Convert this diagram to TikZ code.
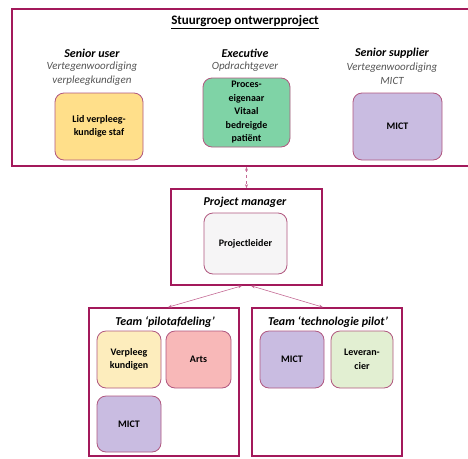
\documentclass[tikz,border=0pt]{standalone}
\usepackage{fontspec}
\setmainfont{Carlito}
\usetikzlibrary{positioning,arrows.meta}
\definecolor{kader}{HTML}{A3195B}
\definecolor{rand}{HTML}{B0577F}
\definecolor{geel}{HTML}{FFDF8A}
\definecolor{groen}{HTML}{7FD3A6}
\definecolor{paars}{HTML}{C9BCE1}
\definecolor{roze}{HTML}{F8B8B8}
\definecolor{lichtgeel}{HTML}{FDEDBD}
\definecolor{lichtgroen}{HTML}{E2EFD2}
\definecolor{grijs}{HTML}{F6F5F6}
\definecolor{subtekst}{HTML}{555555}
\definecolor{lijn}{HTML}{C46A95}
\tikzset{
  kaderbox/.style={draw=kader, line width=1.6pt, inner sep=0pt},
  rolbox/.style={draw=rand, line width=0.8pt, rounded corners=9pt, inner sep=2pt,
    align=center, font=\fontsize{10}{13.5}\selectfont\bfseries},
  kop/.style={font=\fontsize{12}{14}\selectfont\bfseries\itshape, inner sep=0pt},
  subkop/.style={font=\fontsize{11}{14.5}\selectfont\itshape, text=subtekst, align=center, inner sep=0pt},
  pijl/.style={draw=lijn, line width=0.6pt, {Stealth[length=4pt]}-{Stealth[length=4pt]}},
}
\begin{document}
\begin{tikzpicture}[x=1pt, y=-1pt]
  \useasboundingbox (0,0) rectangle (468,458);
  % stuurgroep
  \node[kaderbox, minimum width=458pt, minimum height=157pt] (stuurgroep) at (241,87.5) {};
  \node[kop, font=\fontsize{13}{15}\selectfont\bfseries] (titel) at (245,22) {\underline{Stuurgroep ontwerpproject}};
  \node[kop] (senioruser) at (92,53) {Senior user};
  \node[subkop, below=4pt of senioruser] {Vertegenwoordiging\\verpleegkundigen};
  \node[kop] (executive) at (245,53) {Executive};
  \node[subkop, below=4pt of executive] {Opdrachtgever};
  \node[kop] (seniorsupplier) at (392,53) {Senior supplier};
  \node[subkop, below=4pt of seniorsupplier] {Vertegenwoordiging\\MICT};
  \node[rolbox, fill=geel, minimum width=88pt, minimum height=67pt] (lid) at (99,126.5) {Lid verpleeg-\\kundige staf};
  \node[rolbox, fill=groen, minimum width=87pt, minimum height=69pt] (proces) at (246.5,112.5) {Proces-\\eigenaar\\Vitaal\\bedreigde\\patiënt};
  \node[rolbox, fill=paars, minimum width=89pt, minimum height=67pt] (mictstuur) at (397.5,126.5) {MICT};
  % project manager
  \node[kaderbox, minimum width=151pt, minimum height=96pt] (pm) at (246.5,237) {};
  \node[kop] at (245,202) {Project manager};
  \node[rolbox, fill=grijs, minimum width=83pt, minimum height=61pt] (projectleider) at (245.5,243.5) {Projectleider};
  % teams
  \node[kaderbox, minimum width=150pt, minimum height=148pt] (teampilot) at (164,382) {};
  \node[kop] at (165,322) {Team ‘pilotafdeling’};
  \node[rolbox, fill=lichtgeel, minimum width=64pt, minimum height=57pt] (verpleeg) at (129,359.5) {Verpleeg\\kundigen};
  \node[rolbox, fill=roze, minimum width=65pt, minimum height=57pt] (arts) at (198.5,359.5) {Arts};
  \node[rolbox, fill=paars, minimum width=64pt, minimum height=56pt] (mictpilot) at (129,424) {MICT};
  \node[kaderbox, minimum width=150pt, minimum height=148pt] (teamtech) at (327,382) {};
  \node[kop] at (328,322) {Team ‘technologie pilot’};
  \node[rolbox, fill=paars, minimum width=64pt, minimum height=57pt] (micttech) at (292,359.5) {MICT};
  \node[rolbox, fill=lichtgroen, minimum width=62pt, minimum height=57pt] (leverancier) at (362,359.5) {Leveran-\\cier};
  % verbindingen
  \draw[pijl, dashed] (pm.north |- stuurgroep.south) -- (pm.north);
  \draw[pijl] ([xshift=-4.5pt]pm.south) -- ([xshift=4pt]teampilot.north);
  \draw[pijl] ([xshift=4.5pt]pm.south) -- ([xshift=-4pt]teamtech.north);
\end{tikzpicture}
\end{document}
